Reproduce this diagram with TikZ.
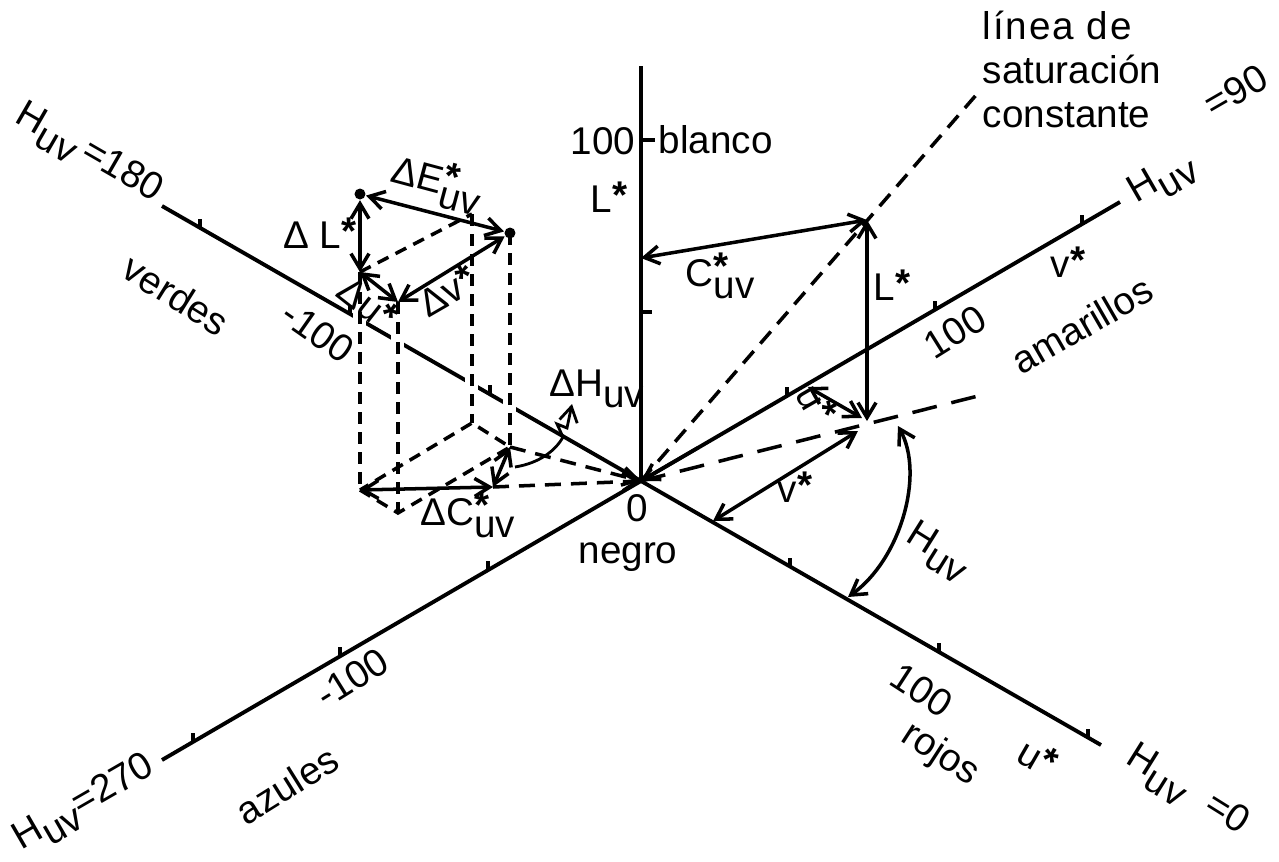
\documentclass[tikz,border=0pt]{standalone}
\usepackage{fontspec}
\setmainfont{Liberation Sans}
\usetikzlibrary{arrows.meta, calc}

\newcommand{\Huv}{H\raisebox{-0.55ex}{uv}}
\newcommand{\sstar}{\raisebox{0.2ex}{\textbf{*}}}
\newcommand{\stuv}{\rlap{\raisebox{0.35ex}{\textbf{*}}}\raisebox{-0.6ex}{uv}}

\begin{document}
\begin{tikzpicture}[
  x=0.1mm, y=-0.1mm,
  font=\fontsize{11}{12.5}\selectfont,
  >={Straight Barb[length=1.5mm, width=1.8mm]},
  axis/.style={line width=1.1pt},
  vec/.style={<->, line width=1pt},
  satline/.style={line width=1pt, dash pattern=on 1.6mm off 1mm},
  hueline/.style={line width=1pt, dash pattern=on 2.5mm off 1.5mm},
  boxline/.style={line width=1pt, dash pattern=on 1.2mm off 0.8mm},
  hidden/.style={boxline, preaction={draw=white, solid, line width=1.3mm}},
  dot/.style={circle, fill=black, inner sep=0pt, minimum size=1.1mm},
  lbl/.style={inner sep=0pt}
]
\useasboundingbox (0,0) rectangle (1279,862);

% --- axes ---
\coordinate (O) at (641,481);
\coordinate (Ltop) at (641,66);
\coordinate (Uend) at (1101,745);
\coordinate (Vend) at (1120,202);
\coordinate (Unend) at (162,206);
\coordinate (Vnend) at (162,760);
\foreach \e in {Ltop,Uend,Vend,Unend,Vnend}
  \draw[axis] (O) -- (\e);

% --- ticks ---
\foreach \e/\a/\b/\c in {Uend/0.324/0.648/0.972, Vend/0.305/0.614/0.921,
                         Unend/0.315/0.608/0.921, Vnend/0.319/0.628/0.935}
  \foreach \f in {\a,\b,\c}
    \draw[axis] ($(O)!\f!(\e)$) -- ++(0,-9);
\draw[axis] (641,312) -- ++(11,0);
\draw[axis] (641,140) -- ++(14,0);

% --- the two samples (left) ---
\coordinate (A1) at (360,194);
\coordinate (B1) at (360,272);
\coordinate (C1) at (398,302);
\coordinate (E1) at (472,214);
\coordinate (A2) at (510,233);
\coordinate (B1b) at (360,490);
\coordinate (C1b) at (398,513);
\coordinate (E1b) at (472,423);
\coordinate (A2b) at (510,447);
\coordinate (R) at (493,487);

\foreach \p in {B1,C1,E1,A2}
  \draw[hidden] (\p) -- (\p b);
\draw[boxline] (B1b) -- (C1b) -- (A2b) -- (E1b) -- cycle;
\draw[boxline] (B1) -- (E1);
\draw[satline, ->] (R) -- (O);
\draw[satline, ->] (A2b) -- (O);

\node[dot] (d1) at (A1) {};
\node[dot] (d2) at (A2) {};
\draw[vec] (d1) -- (d2);
\draw[vec] (d1) -- (B1);
\draw[vec] (B1) -- (C1);
\draw[vec] (C1) -- (d2);
\draw[vec] (B1b) -- (R);
\draw[vec] (R) -- (A2b);

% --- leader for Delta H ---
\coordinate (hs) at (515,467);
\coordinate (ht) at (572,404);
\draw[->, line width=0.8pt] (hs) .. controls (540,463) and (556,450) .. (563,437)
  -- (557,424) -- (567,428) -- (ht);

% --- the colour point (right) ---
\coordinate (P) at (867,220);
\coordinate (Q) at (867,421);
\coordinate (Lc) at (641,258);
\coordinate (Sat) at (977,94);
\coordinate (Hend) at (982,395);
\coordinate (Uq) at (808,387);
\coordinate (Qu) at (862,418);
\coordinate (V1) at (713,521);
\coordinate (V2) at (858,431);
\coordinate (Ha) at (898,426);
\coordinate (Hb) at (848,597);
\coordinate (Vo) at ($(O)!0.12!(Vend)$);

\draw[satline] (O) -- (Sat);
\draw[hueline] (O) -- (Hend);
\draw[->, line width=1pt] (Vo) -- (O);
\draw[vec] (Lc) -- (P);
\draw[vec] (Q) -- (P);
\draw[vec] (Uq) -- (Qu);
\draw[vec] (V1) -- (V2);
\draw[vec] (Hb) .. controls (900,560) and (925,475) .. (Ha);

% --- axis labels ---
\node[lbl, rotate=-30] (t180) at (88,155) {\Huv\,=180};
\node[lbl, rotate=30, anchor=base west] (t90) at (1136,204)
  {\Huv\hspace{1.05em}\raisebox{1.7ex}{=90}};
\node[lbl, rotate=30] (t270) at (85,805) {\Huv=270};
\node[lbl, rotate=-32] (t0) at (1186,792) {\Huv\hspace{0.6em}=0};
\node[lbl, rotate=-32] (verdes) at (176,295) {verdes};
\node[lbl, rotate=-35] (mu100) at (318,332) {-100};
\node[lbl, rotate=32] (azules) at (287,785) {azules};
\node[lbl, rotate=32] (mv100) at (352,678) {-100};
\node[lbl, rotate=32] (v100) at (955,332) {100};
\node[lbl, rotate=30] (amar) at (1082,325) {amarillos};
\node[lbl] (vax) at (1068,262) {v\sstar};
\node[lbl, rotate=-33] (u100) at (922,690) {100};
\node[lbl, rotate=-33] (rojos) at (940,755) {rojos};
\node[lbl, rotate=-30] (uax) at (1038,757) {u\sstar};
\node[lbl] (zero) at (637,508) {0};
\node[lbl] (negro) at (628,557) {negro};
\node[lbl] (L100) at (603,141) {100};
\node[lbl, anchor=west] (blanco) at (658,140) {blanco};
\node[lbl] (Lax) at (609,197) {L\sstar};
\node[lbl, anchor=north west, align=left] (sat) at (982,10)
  {\addfontfeature{LetterSpace=5}línea de\\saturación\\constante};

% --- vector labels ---
\node[lbl] (Cuv) at (720,276) {C\stuv};
\node[lbl] (Lr) at (892,285) {L\sstar};
\node[lbl, rotate=-60] (ur) at (817,403) {u\sstar};
\node[lbl] (vr) at (795,487) {v\sstar};
\node[lbl, rotate=-32] (Hlbl) at (938,552) {\Huv};
\node[lbl, rotate=-15] (dE) at (437,183) {ΔE\stuv};
\node[lbl] (dL) at (320,233) {Δ L\sstar};
\node[lbl, rotate=-38] (du) at (368,303) {Δu\sstar};
\node[lbl, rotate=30] (dv) at (447,290) {Δv\sstar};
\node[lbl] (dH) at (597,389) {ΔH\raisebox{-0.55ex}{uv}};
\node[lbl] (dC) at (468,515) {ΔC\stuv};
\end{tikzpicture}
\end{document}
